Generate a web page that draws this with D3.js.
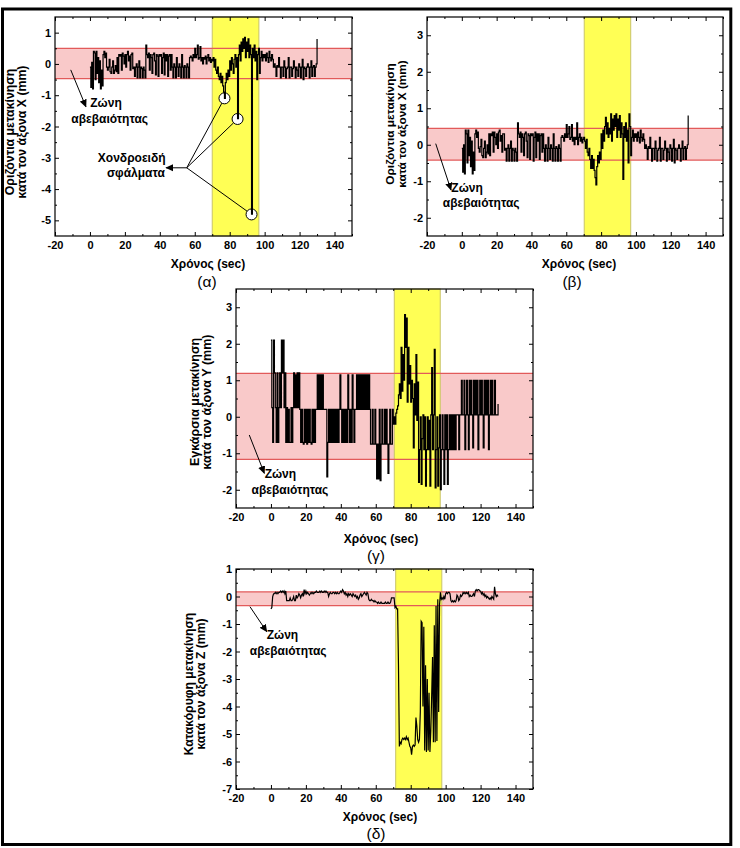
<!DOCTYPE html>
<html><head><meta charset="utf-8">
<script src="https://cdn.jsdelivr.net/npm/d3@7"></script>
<style>
body{margin:0;background:#fff}
svg{display:block}
text{font-family:Arial,"Liberation Sans",sans-serif}
</style>
</head><body>
<svg id="c" width="740" height="848"></svg>
<script>
// ---------- DATA ----------
const sampleStep = 0.5;           // seconds between samples (series start at t = 0)
const xTickLabels = [-20, 0, 20, 40, 60, 80, 100, 120, 140];
const xMinorTicks = [-10, 10, 30, 50, 70, 90, 110, 130, 150];
const xDomain = [-20, 150];

// (α) horizontal X, raw (with gross errors)
const seriesXRaw = [
 -0.1,-0.75,0.05,-0.8,0.4,0.35,-0.5,0.4,-0.3,0.2,
 -0.6,0.1,-0.8,-0.2,-0.7,0.3,0.4,0.2,0.35,-0.1,
 -0.2,-0.1,0.15,-0.25,-0.3,-0.1,0.1,-0.3,-0.2,-0.05,
 -0.25,0.2,-0.3,0.3,0.25,0.3,-0.2,0.35,0.25,0.0,
 0.3,-0.1,0.3,0.4,0.1,0.25,-0.2,0.3,0.35,-0.15,
 -0.1,-0.4,-0.1,0.0,-0.45,-0.1,0.1,-0.45,-0.1,-0.15,
 -0.45,-0.1,-0.2,-0.45,0.6,0.3,0.2,0.35,-0.2,0.3,
 0.2,-0.3,0.3,0.35,0.1,-0.35,0.3,0.25,-0.4,0.3,
 0.25,0.3,-0.3,0.2,0.35,-0.35,0.3,0.1,0.3,-0.4,
 0.25,0.3,-0.2,0.3,-0.1,-0.45,0.0,-0.1,-0.45,0.2,
 -0.1,-0.4,0.0,-0.1,-0.45,0.3,-0.1,-0.45,-0.05,-0.1,
 -0.45,0.0,-0.1,-0.45,0.2,0.25,0.2,0.1,0.3,0.2,
 0.5,0.2,0.3,0.6,0.15,0.2,0.55,0.1,0.2,0.0,
 0.2,0.15,0.25,0.0,0.2,0.3,0.1,0.2,0.05,0.15,
 0.1,0.2,-0.1,0.15,-0.2,-0.3,-0.1,-0.4,-0.5,-0.3,
 -0.6,-0.4,-0.7,-0.9,-1.1,-0.6,-0.3,-0.5,-0.2,-0.4,
 0.1,-0.2,0.2,0.0,-0.3,0.15,0.3,-0.1,0.2,-1.75,
 0.3,0.6,0.1,0.7,0.4,0.8,0.5,0.85,0.2,0.7,
 0.4,0.8,0.2,0.6,0.3,-4.8,0.5,0.2,0.6,0.1,
 0.4,-0.5,0.3,0.5,-0.3,0.2,0.4,0.1,0.3,0.2,
 0.3,0.1,0.35,0.2,0.05,0.4,0.2,0.1,0.3,0.15,
 -0.1,0.0,-0.1,-0.4,-0.05,-0.1,0.2,-0.1,-0.45,-0.1,
 -0.1,-0.4,0.1,-0.1,-0.45,-0.15,-0.1,0.2,-0.45,-0.1,
 -0.1,-0.4,-0.15,0.1,-0.1,-0.45,-0.1,-0.2,-0.4,0.0,
 -0.1,-0.45,-0.1,0.15,-0.5,-0.1,-0.15,-0.4,-0.1,0.0,
 -0.1,-0.45,-0.1,0.1,-0.4,-0.1,-0.05,-0.4,-0.1,0.0,
 0.8
];

// (β) horizontal X, cleaned
const seriesXClean = [
 -0.1,-0.75,0.0,-0.8,0.4,0.3,-0.5,0.4,-0.3,0.2,
 -0.6,0.1,-0.8,-0.2,-0.7,0.3,0.4,0.2,0.35,-0.1,
 -0.2,-0.05,0.15,-0.3,-0.35,-0.1,0.1,-0.35,-0.2,0.0,
 -0.25,0.3,-0.3,0.3,0.25,0.35,-0.2,0.35,0.2,0.0,
 0.3,-0.1,0.35,0.4,0.1,0.25,-0.2,0.3,0.3,-0.15,
 -0.1,-0.45,-0.1,0.0,-0.45,-0.1,0.1,-0.45,-0.1,-0.15,
 -0.45,-0.1,-0.2,-0.45,0.6,0.3,0.2,0.35,-0.2,0.3,
 0.2,-0.3,0.3,0.35,0.1,-0.35,0.3,0.25,-0.4,0.3,
 0.25,0.3,-0.45,0.2,0.35,-0.35,0.3,0.1,0.3,-0.4,
 0.25,0.3,-0.2,0.3,-0.1,-0.45,0.0,-0.1,-0.45,0.2,
 -0.1,-0.4,0.0,-0.1,-0.45,0.3,-0.1,-0.45,-0.05,-0.1,
 -0.45,0.0,-0.1,-0.45,0.2,0.25,0.2,0.1,0.3,0.2,
 0.55,0.2,0.3,0.5,0.15,0.2,0.55,0.1,0.2,0.0,
 0.2,0.15,0.6,0.0,0.2,0.3,0.1,0.2,0.05,0.15,
 0.2,0.1,-0.1,0.15,-0.2,-0.3,-0.1,-0.4,-0.65,-0.3,
 -0.65,-0.4,-0.7,-0.9,-1.1,-0.6,-0.3,-0.5,-0.2,-0.4,
 0.3,-0.1,0.4,0.1,0.5,0.75,0.3,0.6,0.2,0.45,
 0.3,0.85,0.1,0.7,0.4,0.8,0.5,0.85,0.2,0.7,
 0.4,0.8,0.2,0.6,0.3,-0.95,0.5,0.2,0.6,0.1,
 0.4,-0.5,0.85,0.5,-0.3,0.2,0.4,0.1,0.3,0.2,
 0.3,0.1,0.35,0.2,0.05,0.4,0.2,0.1,0.3,0.15,
 -0.1,0.0,-0.1,-0.4,-0.05,-0.1,0.2,-0.1,-0.45,-0.1,
 -0.1,-0.4,0.1,-0.1,-0.45,-0.15,-0.1,0.2,-0.45,-0.1,
 -0.1,-0.4,-0.15,0.1,-0.1,-0.45,-0.1,-0.2,-0.4,0.0,
 -0.1,-0.45,-0.1,0.15,-0.5,-0.1,-0.15,-0.4,-0.1,0.0,
 -0.1,-0.45,-0.1,0.1,-0.4,-0.1,-0.05,-0.4,-0.1,0.0,
 0.8
];

// (γ) transverse Y
const seriesY = [
 2.1,0.25,-0.7,2.1,1.2,0.25,-0.7,1.2,-0.7,0.25,
 1.2,0.25,2.1,1.2,2.1,0.25,1.2,-0.7,0.25,-0.7,
 0.2,-0.7,-0.7,0.25,-0.7,0.25,1.2,0.25,1.15,0.25,
 1.2,0.25,1.2,0.2,-0.7,0.2,-0.7,-0.75,0.2,-0.7,
 0.2,-0.75,0.2,-0.7,0.2,-0.7,-0.75,0.2,-0.7,0.2,
 -0.7,0.2,0.2,1.15,0.2,1.15,0.2,1.15,0.2,1.15,
 0.2,0.2,0.2,0.2,-1.65,-0.7,0.2,-0.7,0.2,-0.7,
 0.2,-0.7,0.2,-0.7,0.2,-0.7,0.2,-0.7,0.2,1.15,
 0.2,-0.7,0.2,-0.7,0.2,-0.7,0.2,-0.7,1.15,0.2,
 -0.7,0.2,-0.7,1.15,0.2,-0.7,0.2,0.2,1.15,0.2,
 1.15,0.2,1.15,0.2,1.15,0.2,1.15,0.2,1.15,0.2,
 1.15,0.2,1.15,0.2,-0.75,-0.75,0.2,-0.75,-0.75,0.2,
 -0.75,-1.7,-0.75,-1.7,0.2,-1.75,-0.75,0.2,-0.75,-0.75,
 0.2,-0.75,0.2,-0.75,-1.55,-0.75,0.2,-0.75,-0.75,0.2,
 -0.2,0.0,-0.2,0.1,0.2,0.3,0.6,0.9,0.5,1.9,
 0.7,1.7,1.0,2.8,1.9,2.7,0.4,1.9,0.9,1.4,
 0.4,1.0,0.5,-0.85,0.9,0.05,1.7,-0.1,0.95,-1.8,
 -0.9,0.0,-1.85,-0.6,0.05,-0.9,0.0,-1.9,-0.9,0.0,
 -0.9,-0.1,-1.9,0.05,1.35,-0.9,0.05,1.85,-1.95,-0.9,
 0.0,-1.9,-0.85,0.05,-2.0,-0.9,0.05,-0.9,-1.85,0.05,
 -0.9,0.05,-1.85,-0.9,0.05,-0.9,0.05,-0.9,0.05,-0.9,
 0.05,-0.9,0.05,0.05,0.05,-0.9,0.05,0.05,1.0,0.05,
 0.05,1.0,-0.9,0.05,1.0,0.05,-0.9,1.0,0.05,1.0,
 0.05,-0.85,1.0,0.05,1.0,0.05,1.0,-0.9,0.05,1.0,
 0.05,1.0,0.05,-0.85,1.0,0.05,1.0,0.05,1.0,-0.9,
 0.05,1.0,0.05,1.0,0.05,0.05,1.0,0.05,0.05,0.05,
 0.35
];

// (δ) vertical Z
const seriesZ = [
 -0.45,-0.4,0.0,0.1,0.1,0.15,0.1,0.15,0.1,0.15,
 0.15,0.2,0.15,0.2,0.15,0.2,0.1,0.2,-0.15,-0.15,
 -0.15,-0.15,-0.05,-0.15,-0.15,-0.1,0.0,-0.15,-0.15,0.05,
 -0.05,0.0,0.1,0.05,-0.05,0.05,0.1,0.0,0.25,0.1,
 0.2,0.1,0.15,0.1,0.05,0.1,0.15,0.1,0.15,0.1,
 0.15,0.15,0.2,0.15,0.15,0.15,0.2,0.15,0.2,0.15,
 0.15,0.2,0.15,0.2,0.15,0.15,0.0,0.1,0.15,0.1,
 0.1,0.15,0.15,0.1,0.15,0.1,0.15,0.1,0.1,0.15,
 0.2,0.15,0.25,0.2,0.1,0.15,0.05,0.1,0.0,0.1,
 0.05,0.1,0.05,0.0,0.1,0.05,0.0,0.05,-0.05,0.0,
 -0.1,-0.05,0.05,0.1,0.0,0.05,0.1,0.15,0.1,0.05,
 0.15,0.1,-0.1,-0.15,-0.15,-0.1,-0.15,-0.15,-0.2,-0.15,
 -0.2,-0.2,-0.25,-0.2,-0.25,-0.25,-0.2,-0.25,-0.25,-0.25,
 -0.25,-0.2,-0.25,-0.25,-0.2,-0.25,-0.25,-0.2,-0.05,-0.05,
 -0.05,-0.05,-0.4,-0.35,-0.45,-0.45,-2.5,-5.45,-5.3,-5.35,
 -5.2,-5.15,-5.2,-5.15,-5.2,-5.1,-5.2,-5.15,-5.3,-5.45,
 -5.5,-5.75,-5.45,-5.4,-5.45,-5.4,-4.4,-4.7,-5.2,-5.3,
 -5.2,-4.2,-0.9,-0.95,-4.0,-1.1,-5.6,-2.5,-5.65,-3.0,
 -5.6,-3.5,-5.65,-4.9,-3.6,-2.2,-5.3,-1.05,-5.3,-0.35,
 -5.25,-0.1,-4.2,-0.3,0.15,-0.1,-0.05,-0.1,0.0,-0.1,
 0.1,0.15,0.1,0.15,0.15,0.1,-0.15,-0.2,-0.15,-0.2,
 -0.15,-0.2,-0.15,0.05,0.0,-0.15,-0.1,0.05,0.0,0.05,
 0.15,0.1,0.15,0.1,0.15,0.1,0.15,0.0,0.05,0.0,
 0.0,0.05,0.1,0.0,0.2,0.25,0.2,0.25,0.25,0.2,
 0.2,0.1,0.15,0.05,0.1,0.0,0.05,-0.05,0.0,-0.05,
 -0.1,-0.05,-0.1,0.0,-0.05,-0.1,0.35,0.1,0.0,0.05,
 0.0
];

const yTicksA = [-5, -4, -3, -2, -1, 0, 1];
const yTicksB = [-2, -1, 0, 1, 2, 3];
const yTicksG = [-2, -1, 0, 1, 2, 3];
const yTicksD = [-7, -6, -5, -4, -3, -2, -1, 0, 1];

const uncertaintyBands = { a: [-0.47, 0.5], b: [-0.42, 0.45], g: [-1.17, 1.19], d: [-0.33, 0.17] };
const highlightWindows = { a: [70, 96.7], b: [70.3, 97], g: [70.6, 96.9], d: [71.4, 97.8] };
const grossErrors = [[77, -1.1], [84.5, -1.76], [92.5, -4.81]];

// ---------- LAYOUT ----------
const panels = [
  { key:'a', box:[55,352,17,236], yDom:[-5.5,1.5], yTicks:yTicksA, data:seriesXRaw, curve:d3.curveStepAfter,
    yTitle:['Οριζόντια μετακίνηση','κατά τον άξονα X (mm)'], yTitleX:[14,26], yTitleY:132, yTitleSize:12.3,
    xTitleY:268, letter:'(α)', letterY:287, titleX:208, letterX:207,
    zone:{ arrow:[[-11,-0.19],[-2.3,-1.37]], t1:[9.2,-1.38], t2:[11.3,-1.89] } },
  { key:'b', box:[427,723,17,236], yDom:[-2.5,3.5], yTicks:yTicksB, data:seriesXClean, curve:d3.curveStepAfter,
    yTitle:['Οριζόντια μετακίνηση','κατά τον άξονα X (mm)'], yTitleX:[394,406], yTitleY:124, yTitleSize:11.8,
    xTitleY:268, letter:'(β)', letterY:287, titleX:579, letterX:572,
    zone:{ arrow:[[-15,0.03],[-6.2,-1.24]], t1:[3.0,-1.29], t2:[11.1,-1.7] } },
  { key:'g', box:[236,533,289,508], yDom:[-2.5,3.5], yTicks:yTicksG, data:seriesY, curve:d3.curveStepAfter,
    yTitle:['Εγκάρσια μετακίνηση','κατά τον άξονα Y (mm)'], yTitleX:[199,210.5], yTitleY:402, yTitleSize:12.5,
    xTitleY:543, letter:'(γ)', letterY:561, titleX:381, letterX:376,
    zone:{ arrow:[[-12.4,-0.5],[-3.8,-1.55]], t1:[5.4,-1.68], t2:[10.9,-2.12] } },
  { key:'d', box:[236,533,569,789], yDom:[-7,1], yTicks:yTicksD, data:seriesZ, curve:d3.curveLinear,
    yTitle:['Κατακόρυφη μετακίνηση','κατά τον άξονα Z (mm)'], yTitleX:[193,205], yTitleY:684, yTitleSize:12.2,
    xTitleY:821, letter:'(δ)', letterY:839, titleX:380, letterX:376,
    zone:{ arrow:[[-12,-0.37],[-2.4,-1.28]], t1:[6.6,-1.55], t2:[9.9,-2.13] } }
];

// ---------- DRAW ----------
const svg = d3.select('#c');
const defs = svg.append('defs');
defs.append('marker').attr('id','ah').attr('viewBox','0 0 10 10')
  .attr('refX',9).attr('refY',5).attr('markerWidth',8).attr('markerHeight',8)
  .attr('markerUnits','userSpaceOnUse').attr('orient','auto')
  .append('path').attr('d','M0,0.5L10,5L0,9.5Z').attr('fill','#000');

// outer frame
svg.append('rect').attr('x',2.5).attr('y',9).attr('width',728.3).attr('height',835.5)
  .attr('fill','none').attr('stroke','#000').attr('stroke-width',3);

panels.forEach(p => {
  const [x0,x1,y0,y1] = p.box;
  const x = d3.scaleLinear().domain(xDomain).range([x0,x1]);
  const y = d3.scaleLinear().domain(p.yDom).range([y1,y0]);
  const g = svg.append('g');
  const band = uncertaintyBands[p.key], win = highlightWindows[p.key];

  g.append('rect').attr('x',x0).attr('width',x1-x0).attr('y',y(band[1])).attr('height',y(band[0])-y(band[1]))
    .attr('fill','#f9c9c9');
  g.append('rect').attr('x',x(win[0])).attr('width',x(win[1])-x(win[0])).attr('y',y0).attr('height',y1-y0)
    .attr('fill','#ffff55').attr('stroke','#c9c46a').attr('stroke-width',1);
  band.forEach(v => g.append('line').attr('x1',x0).attr('x2',x1).attr('y1',y(v)).attr('y2',y(v))
    .attr('stroke','#e25a5a').attr('stroke-width',1.3));

  if (p.key === 'a') {
    grossErrors.forEach(c => g.append('circle').attr('cx',x(c[0])).attr('cy',y(c[1])).attr('r',5.5)
      .attr('fill','#fff').attr('stroke','#000').attr('stroke-width',1));
  }

  const pts = p.data.map((v,i) => [i*sampleStep, v]);
  g.append('path').datum(pts)
    .attr('d', d3.line().x(d=>x(d[0])).y(d=>y(d[1])).curve(p.curve))
    .attr('fill','none').attr('stroke','#000').attr('stroke-width',1.2).attr('stroke-linejoin','miter');

  // axes (inward ticks, mirrored)
  const fmt = d => String(d);
  const styleAxis = sel => { sel.select('.domain').remove();
    sel.selectAll('text').attr('font-size',11).attr('font-weight','bold').attr('fill','#000')
      .attr('font-family','Arial, "Liberation Sans", sans-serif');
    sel.selectAll('line').attr('stroke','#000'); };
  g.append('g').attr('transform',`translate(0,${y1})`)
    .call(d3.axisBottom(x).tickValues(xTickLabels).tickFormat(fmt).tickSize(-4).tickPadding(5)).call(styleAxis);
  g.append('g').attr('transform',`translate(0,${y1})`)
    .call(d3.axisBottom(x).tickValues(xMinorTicks).tickFormat('').tickSize(-2)).call(styleAxis);
  g.append('g').attr('transform',`translate(0,${y0})`)
    .call(d3.axisTop(x).tickValues(xTickLabels).tickFormat('').tickSize(-4)).call(styleAxis);
  g.append('g').attr('transform',`translate(0,${y0})`)
    .call(d3.axisTop(x).tickValues(xMinorTicks).tickFormat('').tickSize(-2)).call(styleAxis);
  const yMinor = p.yTicks.slice(0,-1).map(v => v + 0.5);
  g.append('g').attr('transform',`translate(${x0},0)`)
    .call(d3.axisLeft(y).tickValues(p.yTicks).tickFormat(fmt).tickSize(-4).tickPadding(4)).call(styleAxis);
  g.append('g').attr('transform',`translate(${x0},0)`)
    .call(d3.axisLeft(y).tickValues(yMinor).tickFormat('').tickSize(-2)).call(styleAxis);
  g.append('g').attr('transform',`translate(${x1},0)`)
    .call(d3.axisRight(y).tickValues(p.yTicks).tickFormat('').tickSize(-4)).call(styleAxis);
  g.append('g').attr('transform',`translate(${x1},0)`)
    .call(d3.axisRight(y).tickValues(yMinor).tickFormat('').tickSize(-2)).call(styleAxis);

  g.append('rect').attr('x',x0).attr('y',y0).attr('width',x1-x0).attr('height',y1-y0)
    .attr('fill','none').attr('stroke','#000').attr('stroke-width',1.2);

  // titles
  g.append('text').attr('x',p.titleX).attr('y',p.xTitleY).attr('text-anchor','middle')
    .attr('font-size',12).attr('font-weight','bold').text('Χρόνος (sec)');
  g.append('text').attr('x',p.letterX).attr('y',p.letterY).attr('text-anchor','middle')
    .attr('font-size',15.5).text(p.letter);
  p.yTitle.forEach((t,i) => g.append('text')
    .attr('transform',`translate(${p.yTitleX[i]},${p.yTitleY}) rotate(-90)`)
    .attr('text-anchor','middle').attr('font-size',p.yTitleSize).attr('font-weight','bold').text(t));

  // uncertainty zone annotation
  const z = p.zone;
  g.append('line').attr('x1',x(z.arrow[0][0])).attr('y1',y(z.arrow[0][1]))
    .attr('x2',x(z.arrow[1][0])).attr('y2',y(z.arrow[1][1]))
    .attr('stroke','#000').attr('stroke-width',1).attr('marker-end','url(#ah)');
  g.append('text').attr('x',x(z.t1[0])).attr('y',y(z.t1[1])).attr('text-anchor','middle')
    .attr('font-size',12).attr('font-weight','bold').text('Ζώνη');
  g.append('text').attr('x',x(z.t2[0])).attr('y',y(z.t2[1])).attr('text-anchor','middle')
    .attr('font-size',12).attr('font-weight','bold').text('αβεβαιότητας');

  if (p.key === 'a') {
    const o = [x(55.4), y(-3.32)];
    g.append('line').attr('x1',o[0]).attr('y1',o[1]).attr('x2',x(43.6)).attr('y2',o[1])
      .attr('stroke','#000').attr('stroke-width',1).attr('marker-end','url(#ah)');
    grossErrors.forEach(c => {
      const cx = x(c[0]), cy = y(c[1]);
      const dx = cx-o[0], dy = cy-o[1], L = Math.hypot(dx,dy);
      g.append('line').attr('x1',o[0]).attr('y1',o[1])
        .attr('x2',cx - dx/L*5.5).attr('y2',cy - dy/L*5.5).attr('stroke','#000').attr('stroke-width',1);
    });
    g.append('text').attr('x',x(23.9)).attr('y',y(-3.15)).attr('text-anchor','middle')
      .attr('font-size',12).attr('font-weight','bold').text('Χονδροειδή');
    g.append('text').attr('x',x(26.3)).attr('y',y(-3.62)).attr('text-anchor','middle')
      .attr('font-size',12).attr('font-weight','bold').text('σφάλματα');
  }
});
</script>
</body></html>
